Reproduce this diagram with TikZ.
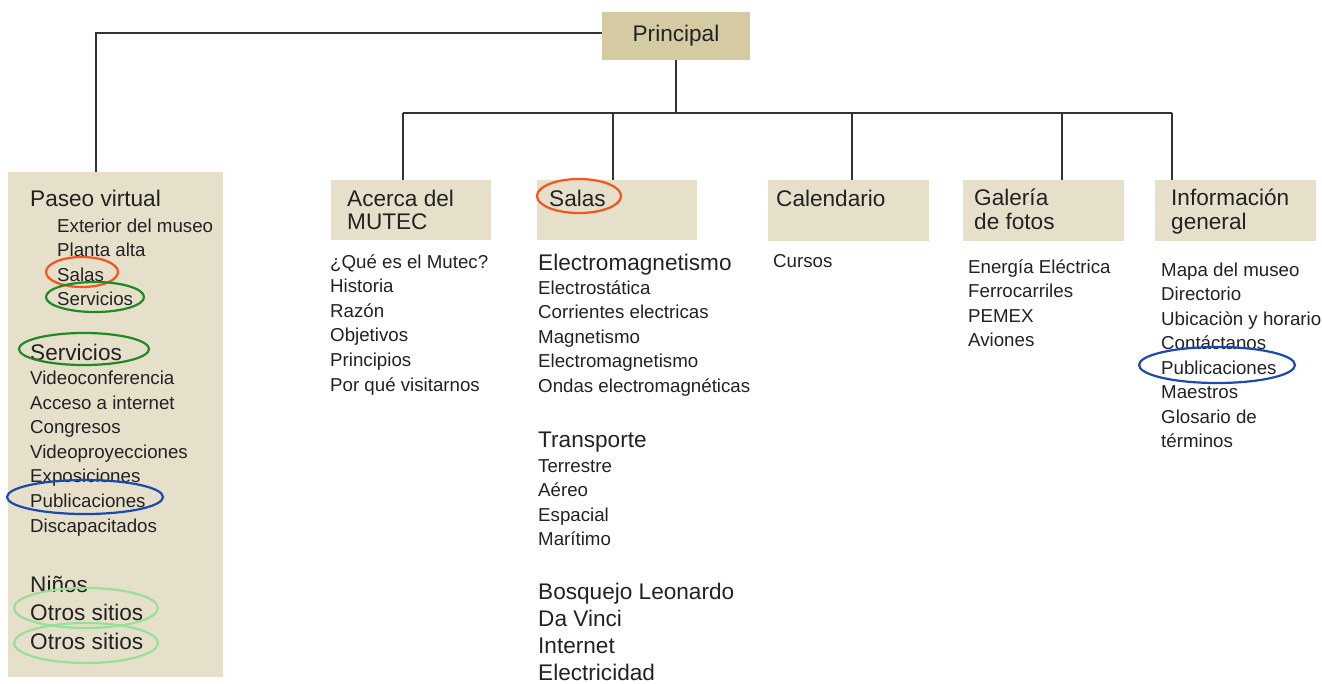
\documentclass[tikz,border=0pt]{standalone}
\usepackage{fontspec}
\setmainfont{Liberation Sans}
\usetikzlibrary{shapes.geometric}
\definecolor{boxc}{HTML}{E6E0CB}
\definecolor{princ}{HTML}{D5CBA3}
\definecolor{txt}{HTML}{222222}
\definecolor{linec}{HTML}{333333}
\definecolor{eorange}{HTML}{F2561D}
\definecolor{egreen}{HTML}{1E8A24}
\definecolor{eblue}{HTML}{1A4AAE}
\definecolor{elight}{HTML}{98E098}
\tikzset{
  sm/.style={anchor=base west, inner sep=0pt, text=txt, font=\fontsize{18.7}{23}\selectfont},
  lg/.style={anchor=base west, inner sep=0pt, text=txt, font=\fontsize{22.6}{27}\selectfont},
  panel/.style={fill=boxc, draw=none, anchor=north west, inner sep=0pt},
  conn/.style={draw=linec, line width=1.3pt},
  ring/.style={ellipse, draw=#1, line width=2.2pt, inner sep=0pt, fill=none},
}
\begin{document}
\begin{tikzpicture}[x=1pt,y=-1pt]
\useasboundingbox (0,0) rectangle (1322,683);
% boxes
\node[panel, minimum width=215pt, minimum height=505pt] (left) at (8,172) {};
\node[fill=princ, inner sep=0pt, minimum width=148pt, minimum height=48pt, text=txt, font=\fontsize{22.6}{27}\selectfont] (principal) at (676,36) {Principal};
\node[panel, minimum width=160pt, minimum height=60pt] (acerca) at (331,180) {};
\node[panel, minimum width=160pt, minimum height=60pt] (salas) at (537,180) {};
\node[panel, minimum width=161pt, minimum height=61pt] (cal) at (768,180) {};
\node[panel, minimum width=161pt, minimum height=61pt] (gal) at (963,180) {};
\node[panel, minimum width=161pt, minimum height=61pt] (info) at (1155,180) {};
% connectors
\coordinate (pvtop) at (96,172);
\draw[conn] ([yshift=3pt]principal.west) -| (pvtop);
\coordinate (bus) at (676,113);
\coordinate (b1) at (403,113);
\coordinate (b2) at (613,113);
\coordinate (b3) at (852,113);
\coordinate (b4) at (1062,113);
\coordinate (b5) at (1172,113);
\draw[conn] (principal.south) -- (bus);
\draw[conn] (b1) -- (b5);
\draw[conn] (b1) -- (acerca.north -| b1);
\draw[conn] (b2) -- (salas.north -| b2);
\draw[conn] (b3) -- (cal.north -| b3);
\draw[conn] (b4) -- (gal.north -| b4);
\draw[conn] (b5) -- (info.north -| b5);
% left panel texts
\node[lg] (pv) at (30,206) {Paseo virtual};
\foreach \t [count=\i] in {Exterior del museo, Planta alta, Salas, Servicios}
  \node[sm] (pvs\i) at (57,{232+24.6*(\i-1)}) {\t};
\node[lg] (serv) at (30,360) {Servicios};
\foreach \t [count=\i] in {Videoconferencia, Acceso a internet, Congresos, Videoproyecciones, Exposiciones, Publicaciones, Discapacitados}
  \node[sm] (servs\i) at (30,{384.5+24.6*(\i-1)}) {\t};
\node[lg] (ninos) at (30,592) {Niños};
\node[lg] (otros1) at (30,620) {Otros sitios};
\node[lg] (otros2) at (30,649) {Otros sitios};
% Acerca
\node[lg] (acT1) at (347,206) {Acerca del};
\node[lg] (acT2) at (347,229) {MUTEC};
\foreach \t [count=\i] in {¿Qué es el Mutec?, Historia, Razón, Objetivos, Principios, Por qué visitarnos}
  \node[sm] (acs\i) at (330,{268+24.6*(\i-1)}) {\t};
% Salas
\node[lg] (saT) at (549,206) {Salas};
\node[lg] (em) at (538,270) {Electromagnetismo};
\foreach \t [count=\i] in {Electrostática, Corrientes electricas, Magnetismo, Electromagnetismo, Ondas electromagnéticas}
  \node[sm] (ems\i) at (538,{294+24.6*(\i-1)}) {\t};
\node[lg] (tr) at (538,447) {Transporte};
\foreach \t [count=\i] in {Terrestre, Aéreo, Espacial, Marítimo}
  \node[sm] (trs\i) at (538,{472+24.6*(\i-1)}) {\t};
\foreach \t [count=\i] in {Bosquejo Leonardo, Da Vinci, Internet, Electricidad}
  \node[lg] (bl\i) at (538,{599+27*(\i-1)}) {\t};
% Calendario
\node[lg] (calT) at (776,206) {Calendario};
\node[sm] (cur) at (773,267) {Cursos};
% Galeria
\node[lg] (gaT1) at (974,205) {Galería};
\node[lg] (gaT2) at (974,229) {de fotos};
\foreach \t [count=\i] in {Energía Eléctrica, Ferrocarriles, PEMEX, Aviones}
  \node[sm] (gas\i) at (968,{273+24.6*(\i-1)}) {\t};
% Informacion
\node[lg] (inT1) at (1171,205) {Información};
\node[lg] (inT2) at (1171,229) {general};
\foreach \t [count=\i] in {Mapa del museo, Directorio, Ubicaciòn y horario, Contáctanos, Publicaciones, Maestros, Glosario de, términos}
  \node[sm] (ins\i) at (1161,{276+24.5*(\i-1)}) {\t};
% highlight ellipses
\node[ring=eorange, minimum width=72pt, minimum height=30pt] (e1) at (82,272) {};
\node[ring=egreen, minimum width=98pt, minimum height=30pt] (e2) at (95,297) {};
\node[ring=egreen, minimum width=130pt, minimum height=32pt] (e3) at (84,349) {};
\node[ring=eblue, minimum width=156pt, minimum height=34pt] (e4) at (85,497) {};
\node[ring=elight, minimum width=144pt, minimum height=40pt] (e5) at (86,608) {};
\node[ring=elight, minimum width=144pt, minimum height=40pt] (e6) at (86,643) {};
\node[ring=eorange, minimum width=84pt, minimum height=34pt] (e7) at (579,196) {};
\node[ring=eblue, minimum width=156pt, minimum height=36pt] (e8) at (1217,365) {};
\end{tikzpicture}
\end{document}
